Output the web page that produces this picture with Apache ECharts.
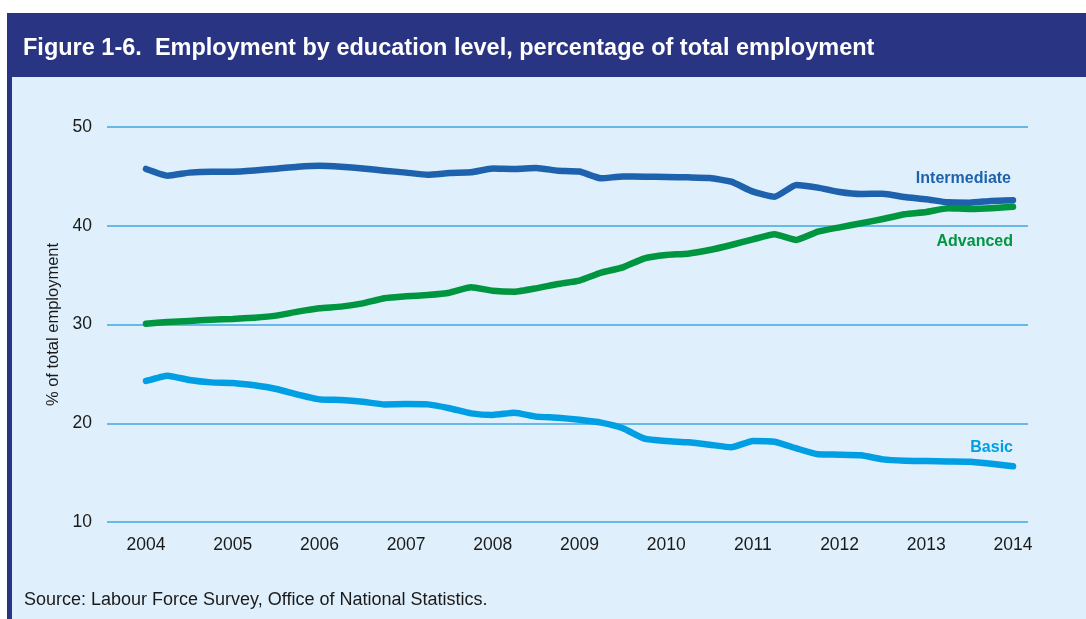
<!DOCTYPE html>
<html>
<head>
<meta charset="utf-8">
<title>Employment by education level</title>
<script src="https://cdn.jsdelivr.net/npm/echarts@6/dist/echarts.min.js"></script>
<style>
  html, body { margin: 0; padding: 0; background: #ffffff; }
  #chart { width: 1086px; height: 619px; }
</style>
</head>
<body>
<div id="chart"></div>
<script>
// Quarterly series, 2004 Q1 to 2014 Q1 (% of total employment)
const startYear = 2004;
const yearTicks = [2004, 2005, 2006, 2007, 2008, 2009, 2010, 2011, 2012, 2013, 2014];

const intermediate = [
  45.75, 45.07, 45.38, 45.48, 45.48, 45.60, 45.78, 45.98, 46.08, 45.98,
  45.80, 45.58, 45.38, 45.17, 45.34, 45.41, 45.80, 45.75, 45.85, 45.58,
  45.49, 44.80, 45.00, 44.97, 44.94, 44.90, 44.84, 44.46, 43.45, 42.94,
  44.13, 43.86, 43.42, 43.22, 43.25, 42.91, 42.68, 42.37, 42.34, 42.51,
  42.58
];

const advanced = [
  30.08, 30.25, 30.35, 30.49, 30.56, 30.69, 30.90, 31.30, 31.64, 31.81,
  32.14, 32.65, 32.85, 32.99, 33.22, 33.76, 33.42, 33.32, 33.66, 34.10,
  34.45, 35.25, 35.79, 36.70, 37.04, 37.17, 37.54, 38.05, 38.62, 39.13,
  38.56, 39.40, 39.84, 40.25, 40.68, 41.16, 41.39, 41.77, 41.70, 41.77,
  41.93
];

const basic = [
  24.28, 24.82, 24.38, 24.14, 24.08, 23.84, 23.47, 22.90, 22.42, 22.35,
  22.18, 21.91, 21.95, 21.91, 21.52, 21.00, 20.84, 21.07, 20.67, 20.56,
  20.35, 20.06, 19.49, 18.44, 18.20, 18.07, 17.83, 17.56, 18.20, 18.13,
  17.46, 16.85, 16.82, 16.75, 16.34, 16.20, 16.17, 16.13, 16.10, 15.90,
  15.64
];

const seriesNames = ['Intermediate', 'Advanced', 'Basic'];
const seriesColors = ['#1e61ad', '#00963f', '#009fe3'];
const seriesValues = [intermediate, advanced, basic];
// where each series name sits relative to the end of its line
const endLabelOffsets = [[-2, -22], [0, 35], [0, -19]];

const FONT = '"Liberation Sans", Arial, Helvetica, sans-serif';

function toPoints(values) {
  return values.map((v, i) => [startYear + i / 4, v]);
}

const chart = echarts.init(document.getElementById('chart'), null, { renderer: 'canvas' });

const option = {
  backgroundColor: '#ffffff',
  animation: false,
  graphic: [
    // panel background
    { type: 'rect', z: -10, shape: { x: 7, y: 13, width: 1079, height: 606 }, style: { fill: '#dff0fc' } },
    // header band
    { type: 'rect', z: -9, shape: { x: 7, y: 13, width: 1079, height: 64 }, style: { fill: '#293583' } },
    // left border
    { type: 'rect', z: -9, shape: { x: 7, y: 13, width: 5, height: 606 }, style: { fill: '#293583' } },
    // source note
    {
      type: 'text', left: 24, top: 591,
      style: {
        text: 'Source: Labour Force Survey, Office of National Statistics.',
        fill: '#1a1a1a', font: '18px ' + FONT
      }
    }
  ],
  title: {
    text: 'Figure 1-6.  Employment by education level, percentage of total employment',
    left: 23,
    top: 37,
    padding: 0,
    textStyle: { color: '#ffffff', fontSize: 23.5, fontWeight: 'bold', fontFamily: FONT }
  },
  grid: [
    { left: 107, right: 58, top: 127, bottom: 97 },
    { left: 146, right: 73, top: 127, bottom: 97 }
  ],
  xAxis: [
    { type: 'value', gridIndex: 0, min: 0, max: 1, show: false },
    {
      type: 'value', gridIndex: 1, min: 2004, max: 2014, interval: 1,
      axisLine: { show: false }, axisTick: { show: false }, splitLine: { show: false },
      axisLabel: {
        color: '#1a1a1a', fontSize: 17.5, fontFamily: FONT, margin: 14,
        formatter: v => (yearTicks.includes(v) ? String(v) : '')
      }
    }
  ],
  yAxis: [
    {
      type: 'value', gridIndex: 0, min: 10, max: 50, interval: 10,
      axisLine: { show: false }, axisTick: { show: false },
      splitLine: { lineStyle: { color: '#3da9e1', width: 1.5 } },
      axisLabel: { color: '#1a1a1a', fontSize: 17.5, fontFamily: FONT, margin: 15 },
      name: '% of total employment',
      nameLocation: 'middle',
      nameGap: 39,
      nameTextStyle: { color: '#1a1a1a', fontSize: 16.5, fontFamily: FONT }
    },
    {
      type: 'value', gridIndex: 1, min: 10, max: 50, interval: 10, show: false,
      splitLine: { show: false }
    }
  ],
  series: seriesValues.map((vals, idx) => ({
    name: seriesNames[idx],
    type: 'line',
    xAxisIndex: 1,
    yAxisIndex: 1,
    data: toPoints(vals),
    showSymbol: false,
    symbol: 'none',
    smooth: 0.15,
    lineStyle: { color: seriesColors[idx], width: 6.5, cap: 'round', join: 'round' },
    itemStyle: { color: seriesColors[idx] },
    endLabel: {
      show: true,
      formatter: seriesNames[idx],
      distance: 0,
      align: 'right',
      verticalAlign: 'middle',
      offset: endLabelOffsets[idx],
      color: seriesColors[idx],
      fontFamily: FONT,
      fontWeight: 'bold',
      fontSize: 16
    },
    emphasis: { disabled: true },
    z: 3 - idx
  }))
};

chart.setOption(option);
</script>
</body>
</html>
